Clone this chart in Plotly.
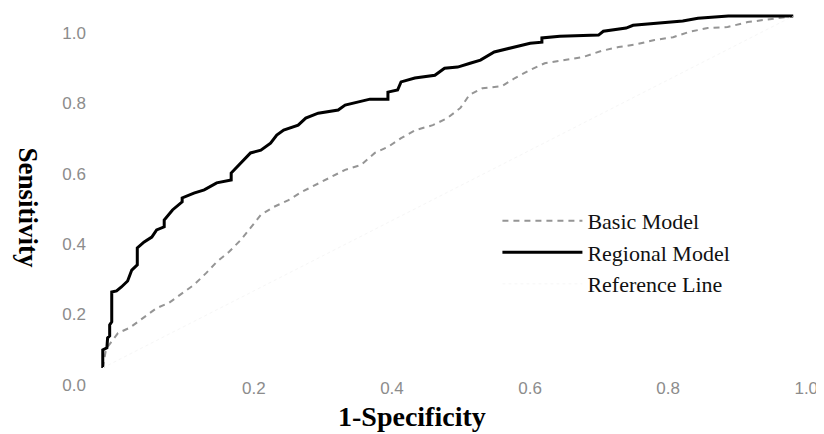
import plotly.graph_objects as go

# Regional Model ROC curve (1-Specificity, Sensitivity)
regional_x = [0, 0, 0.006, 0.007, 0.010, 0.010, 0.013, 0.013, 0.020, 0.027, 0.036, 0.042, 0.050, 0.050,
              0.060, 0.071, 0.078, 0.089, 0.089, 0.101, 0.115, 0.115, 0.132, 0.147, 0.165, 0.186, 0.186,
              0.194, 0.207, 0.214, 0.229, 0.243, 0.252, 0.262, 0.283, 0.294, 0.312, 0.341, 0.351, 0.370,
              0.387, 0.413, 0.413, 0.427, 0.432, 0.452, 0.481, 0.495, 0.514, 0.532, 0.547, 0.567, 0.590,
              0.619, 0.636, 0.636, 0.662, 0.718, 0.725, 0.758, 0.768, 0.806, 0.840, 0.862, 0.906, 1.0]
regional_y = [0, 0.051, 0.057, 0.085, 0.091, 0.122, 0.131, 0.216, 0.219, 0.230, 0.247, 0.278, 0.293, 0.341,
              0.358, 0.372, 0.392, 0.401, 0.420, 0.449, 0.472, 0.483, 0.497, 0.506, 0.526, 0.534, 0.554,
              0.571, 0.597, 0.611, 0.619, 0.639, 0.662, 0.676, 0.690, 0.710, 0.724, 0.733, 0.747, 0.756,
              0.764, 0.764, 0.784, 0.790, 0.813, 0.824, 0.832, 0.852, 0.855, 0.866, 0.875, 0.898, 0.909,
              0.923, 0.926, 0.938, 0.943, 0.946, 0.957, 0.966, 0.974, 0.980, 0.986, 0.994, 1.0, 1.0]

# Basic Model ROC curve
basic_x = [0, 0.004, 0.007, 0.022, 0.039, 0.058, 0.078, 0.096, 0.115, 0.132, 0.150, 0.165, 0.183, 0.200,
           0.214, 0.229, 0.247, 0.269, 0.288, 0.308, 0.331, 0.351, 0.374, 0.394, 0.413, 0.432, 0.453,
           0.478, 0.499, 0.518, 0.531, 0.550, 0.578, 0.597, 0.619, 0.640, 0.669, 0.696, 0.722, 0.747,
           0.773, 0.799, 0.826, 0.849, 0.876, 0.905, 0.934, 0.960, 1.0]
basic_y = [0, 0.045, 0.060, 0.099, 0.114, 0.142, 0.170, 0.185, 0.213, 0.236, 0.270, 0.301, 0.330, 0.364,
           0.398, 0.435, 0.457, 0.477, 0.500, 0.520, 0.543, 0.563, 0.577, 0.611, 0.628, 0.653, 0.676,
           0.690, 0.710, 0.739, 0.776, 0.795, 0.801, 0.824, 0.847, 0.866, 0.875, 0.884, 0.901, 0.912,
           0.920, 0.932, 0.940, 0.955, 0.966, 0.969, 0.983, 0.989, 1.0]

# Reference (chance) line
reference_x = [0, 1]
reference_y = [0, 1]

# x axis shares the "0.0" corner label with the y axis
x_tick_vals = [0.2, 0.4, 0.6, 0.8, 1.0]
x_tick_text = ["0.2", "0.4", "0.6", "0.8", "1.0"]
y_tick_vals = [0, 0.2, 0.4, 0.6, 0.8, 1.0]
y_tick_text = ["0.0", "0.2", "0.4", "0.6", "0.8", "1.0"]

fig = go.Figure()
fig.add_trace(go.Scatter(x=basic_x, y=basic_y, mode="lines", name="Basic Model",
                         line=dict(color="#959595", width=2, dash="6px,5px")))
fig.add_trace(go.Scatter(x=regional_x, y=regional_y, mode="lines", name="Regional Model",
                         line=dict(color="#000000", width=3)))
fig.add_trace(go.Scatter(x=reference_x, y=reference_y, mode="lines", name="Reference Line",
                         line=dict(color="#f6f6f6", width=1, dash="dot")))

axis_common = dict(
    showgrid=False, zeroline=False, showline=False, ticks="",
    tickfont=dict(family="Liberation Sans", size=17, color="#8c8c8c"),
)

fig.update_layout(
    width=816, height=426,
    margin=dict(l=92, r=23, t=6, b=64),
    paper_bgcolor="white", plot_bgcolor="white",
    showlegend=True,
    legend=dict(x=0.571, y=0.478, xanchor="left", yanchor="top",
                font=dict(family="Liberation Serif", size=22, color="#111111"),
                bgcolor="rgba(0,0,0,0)", itemwidth=80, tracegroupgap=0),
    xaxis=dict(range=[-0.004, 1.004], tickvals=x_tick_vals, ticktext=x_tick_text,
               ticklabelstandoff=6, ticklabelshift=13, **axis_common),
    yaxis=dict(range=[-0.006, 1.006], tickvals=y_tick_vals, ticktext=y_tick_text,
               ticklabelstandoff=13, ticklabelshift=17, **axis_common),
    annotations=[
        dict(text="<b>1-Specificity</b>", xref="paper", yref="paper", x=0.448, y=-0.13,
             xanchor="center", yanchor="middle", showarrow=False,
             font=dict(family="Liberation Serif", size=28, color="#000000")),
        dict(text="<b>Sensitivity</b>", xref="paper", yref="paper", x=-0.104, y=0.455,
             xanchor="center", yanchor="middle", showarrow=False, textangle=90,
             font=dict(family="Liberation Serif", size=27, color="#000000")),
    ],
)

fig.write_html("out.html")
